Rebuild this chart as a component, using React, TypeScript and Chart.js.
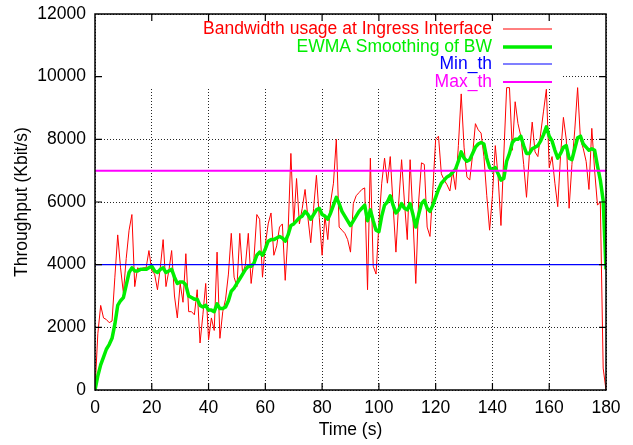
import React, { useEffect, useRef } from "react";
import { Chart, registerables } from "chart.js";

Chart.register(...registerables);

// Bandwidth usage at ingress interface, one sample per second (t = 0..180 s), Kbit/s
const bandwidth = [
  0, 1800, 2700, 2300, 2250, 2150, 2200, 3600, 4950, 3900,
  3100, 4200, 5100, 5600, 3300, 3900, 3850, 3900, 3900, 4450,
  3800, 3700, 3200, 3900, 4800, 3300, 3800, 4450, 3000, 2300,
  3400, 2800, 4350, 2500, 2500, 2400, 3200, 1500, 2400, 3400,
  1600, 2300, 1900, 4400, 1650, 2500, 2900, 3700, 5000, 3600,
  3300, 5000, 3700, 4000, 5000, 3400, 4200, 5600, 5450, 3600,
  4650, 5300, 5650, 4300, 4600, 5200, 5300, 3500, 5000, 7550,
  5300, 6750, 5300, 5800, 6400, 5500, 4700, 5800, 6850, 5500,
  4300, 5550, 4800, 6000, 6600, 8000, 5200, 5100, 5000, 4800,
  4400, 5950, 6200, 6300, 6400, 6450, 3200, 7400, 3950, 3700,
  5300, 6600, 7400, 6600, 7450, 5900, 4400, 6000, 7350, 6000,
  4800, 7350, 5500, 3400, 6000, 7250, 7200, 5200, 4900, 6400,
  8000, 8100, 6900, 6700, 6550, 6350, 7000, 6400, 7800, 9450,
  7750, 6800, 6700, 7500, 8500, 8300, 8200, 7450, 6200, 5100,
  6200, 7800, 6800, 5250, 7500, 9650, 9650, 7650, 9200, 8500,
  8100, 7200, 6150, 7500, 8550, 7600, 7450, 8200, 8900, 9600,
  7100, 7450, 6600, 5850, 7500, 8700, 8000, 5800, 7200, 8300,
  9650, 8000, 7700, 7300, 6400, 8350, 7000, 5900, 6000, 700,
  0,
];

// EWMA smoothing of the bandwidth, same sampling
const ewma = [
  0, 450, 800, 1050, 1300, 1450, 1650, 2100, 2700, 2850,
  2950, 3350, 3750, 3900, 3800, 3800, 3850, 3850, 3850, 3900,
  3950, 3800, 3750, 3850, 3900, 3750, 3800, 3850, 3600, 3400,
  3450, 3450, 3350, 3000, 2950, 2900, 2900, 2700, 2650, 2700,
  2550, 2550, 2500, 2750, 2600, 2600, 2650, 2850, 3150, 3250,
  3400, 3550, 3700, 3850, 3950, 3950, 4050, 4300, 4400, 4300,
  4500, 4750, 4800, 4800, 4850, 4900, 4850, 4750, 4950, 5250,
  5300, 5400, 5500, 5550, 5700, 5600, 5450, 5600, 5750, 5800,
  5600, 5550, 5450, 5650, 5900, 6150, 5950, 5700, 5550, 5400,
  5250, 5400, 5550, 5700, 5800, 5900, 5400, 5750, 5400, 5100,
  5050, 5550, 5900, 6000, 6200, 5900, 5650, 5750, 5950, 5800,
  5750, 5950, 5600, 5200, 5600, 5950, 6050, 5800, 5700, 5900,
  6150, 6400, 6600, 6700, 6800, 6850, 6950, 7050, 7300, 7600,
  7400, 7300, 7350, 7550, 7750, 7850, 7900, 7850, 7400, 7100,
  7000, 7100, 6900, 6700, 6750, 7300, 7550, 7900, 8000, 8000,
  8100, 7800, 7550, 7550, 7700, 7750, 7800, 7950, 8150, 8400,
  8100, 7950, 7650, 7400, 7550, 7750, 7800, 7400, 7350, 7700,
  8050, 8100, 7850, 7750, 7650, 7700, 7650, 7150, 6700, 6050,
  3850,
];

const MIN_TH = 4000;
const MAX_TH = 7000;
const X_RANGE = [0, 180];
const Y_RANGE = [0, 12000];
const X_STEP = 20;
const Y_STEP = 2000;

const legendLabels = [
  "Bandwidth usage at Ingress Interface",
  "EWMA Smoothing of BW",
  "Min_th",
  "Max_th",
];

const RED = "#ff0000";
const GREEN = "#00ee00";
const BLUE = "#0000ff";
const MAGENTA = "#ff00ff";
const FONT = "'Liberation Sans', Arial, Helvetica, sans-serif";

const legendStyles = [
  { color: RED, width: 1 },
  { color: GREEN, width: 3.5 },
  { color: BLUE, width: 1.2 },
  { color: MAGENTA, width: 2 },
];

const gnuplotFrame = {
  id: "gnuplotFrame",
  beforeDatasetsDraw(chart: any) {
    const { ctx, chartArea } = chart;
    ctx.save();
    ctx.fillStyle = "#ffffff";
    ctx.fillRect(chartArea.left + 1, chartArea.top + 1, chartArea.right - 45 - chartArea.left, 74);
    ctx.restore();
  },
  afterDatasetsDraw(chart: any) {
    const { ctx, chartArea, scales } = chart;
    const { left, right, top, bottom } = chartArea;
    ctx.save();
    // legend
    ctx.font = `17.5px ${FONT}`;
    ctx.textAlign = "right";
    ctx.textBaseline = "middle";
    const rows = [15, 33, 50, 68];
    legendLabels.forEach((lab, i) => {
      const y = top + rows[i];
      ctx.fillStyle = legendStyles[i].color;
      ctx.fillText(lab, right - 114, y);
      ctx.strokeStyle = legendStyles[i].color;
      ctx.lineWidth = legendStyles[i].width;
      ctx.beginPath();
      ctx.moveTo(right - 103, y);
      ctx.lineTo(right - 54, y);
      ctx.stroke();
    });
    // frame
    ctx.strokeStyle = "#000";
    ctx.lineWidth = 1.5;
    ctx.strokeRect(left, top, right - left, bottom - top);
    // inward ticks
    const tl = 7;
    ctx.lineWidth = 1.2;
    ctx.beginPath();
    for (let v = X_RANGE[0] + X_STEP; v < X_RANGE[1]; v += X_STEP) {
      const x = scales.x.getPixelForValue(v);
      ctx.moveTo(x, bottom);
      ctx.lineTo(x, bottom - tl);
      ctx.moveTo(x, top);
      ctx.lineTo(x, top + tl);
    }
    for (let v = Y_RANGE[0] + Y_STEP; v < Y_RANGE[1]; v += Y_STEP) {
      const y = scales.y.getPixelForValue(v);
      ctx.moveTo(left, y);
      ctx.lineTo(left + tl, y);
      ctx.moveTo(right, y);
      ctx.lineTo(right - tl, y);
    }
    ctx.stroke();
    ctx.restore();
  },
};

export default function App() {
  const ref = useRef<HTMLCanvasElement | null>(null);

  useEffect(() => {
    document.body.style.margin = "0";
    const canvas = ref.current;
    if (!canvas) return;
    const toPts = (arr: number[]) => arr.map((v, i) => ({ x: i, y: v }));
    const chart = new Chart(canvas, {
      type: "line",
      data: {
        datasets: [
          {
            label: legendLabels[0],
            data: toPts(bandwidth),
            borderColor: RED,
            borderWidth: 1,
            pointRadius: 0,
            tension: 0,
            order: 4,
          },
          {
            label: legendLabels[1],
            data: toPts(ewma),
            borderColor: GREEN,
            borderWidth: 3.5,
            pointRadius: 0,
            tension: 0,
            order: 3,
            borderJoinStyle: "round",
          },
          {
            label: legendLabels[2],
            data: [
              { x: X_RANGE[0], y: MIN_TH },
              { x: X_RANGE[1], y: MIN_TH },
            ],
            borderColor: BLUE,
            borderWidth: 1.2,
            pointRadius: 0,
            order: 2,
          },
          {
            label: legendLabels[3],
            data: [
              { x: X_RANGE[0], y: MAX_TH },
              { x: X_RANGE[1], y: MAX_TH },
            ],
            borderColor: MAGENTA,
            borderWidth: 2,
            pointRadius: 0,
            order: 1,
          },
        ],
      },
      options: {
        responsive: false,
        animation: false,
        events: [],
        layout: { padding: { top: 14, right: 27, left: 0, bottom: 0 } },
        plugins: { legend: { display: false }, tooltip: { enabled: false } },
        scales: {
          x: {
            type: "linear",
            min: X_RANGE[0],
            max: X_RANGE[1],
            ticks: {
              stepSize: X_STEP,
              color: "#000",
              padding: 8,
              font: { family: FONT, size: 17.5 },
              maxRotation: 0,
              callback: (v: any) => String(v),
            },
            grid: { color: "rgba(0,0,0,0.85)", lineWidth: 1, drawTicks: false },
            border: { display: false, dash: [1, 2] },
            title: {
              display: true,
              text: "Time (s)",
              color: "#000",
              font: { family: FONT, size: 17.5 },
              padding: { top: 0, bottom: 4 },
            },
            afterFit: (s: any) => {
              s.height = 55;
              s.paddingLeft = 0;
              s.paddingRight = 0;
            },
          },
          y: {
            type: "linear",
            min: Y_RANGE[0],
            max: Y_RANGE[1],
            ticks: {
              stepSize: Y_STEP,
              color: "#000",
              padding: 9,
              font: { family: FONT, size: 17.5 },
              callback: (v: any) => String(v),
            },
            grid: { color: "rgba(0,0,0,0.85)", lineWidth: 1, drawTicks: false },
            border: { display: false, dash: [1, 2] },
            title: {
              display: true,
              text: "Throughput (Kbit/s)",
              color: "#000",
              font: { family: FONT, size: 17.5 },
              padding: { top: 11.5, bottom: 0 },
            },
            afterFit: (s: any) => {
              s.width = 95;
              s.paddingTop = 0;
              s.paddingBottom = 0;
            },
          },
        },
      },
      plugins: [gnuplotFrame],
    });
    return () => chart.destroy();
  }, []);

  return <canvas ref={ref} width={633} height={445} style={{ display: "block" }} />;
}
